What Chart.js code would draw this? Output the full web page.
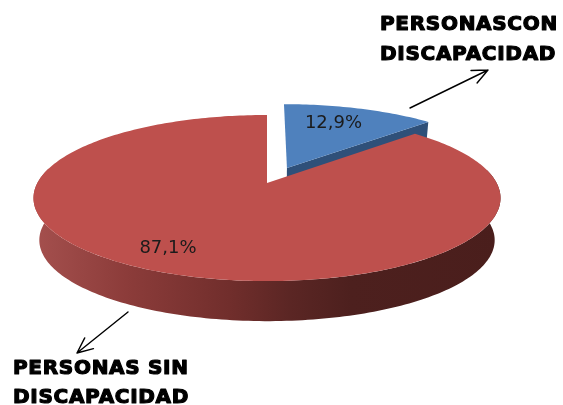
<!DOCTYPE html>
<html><head><meta charset="utf-8">
<style>html,body{margin:0;padding:0;background:#fff}canvas{display:block}</style>
<script src="https://cdn.jsdelivr.net/npm/chart.js@4"></script>
</head><body><canvas id="c" width="563" height="405"></canvas>
<script>
const categories = ["PERSONAS CON DISCAPACIDAD", "PERSONAS SIN DISCAPACIDAD"];
const values = [12.9, 87.1];
const topColors = ["#4F81BD", "#BE504D"];
const sideColors = ["#2F5079", "#7A2F2D"];
const slicePull = [39, 0];
const pullTurn = [0.03, 0];
const labelRadius = [0.716, 0.8];
const labelTurn = [-0.056, 0.084];
const calloutLines = [
  {text:"PERSONASCON", x:380, y:30},
  {text:"DISCAPACIDAD", x:380, y:60},
  {text:"PERSONAS SIN", x:13, y:374},
  {text:"DISCAPACIDAD", x:13, y:403}
];
const arrows = [
  {from:[410,108], to:[488,70]},
  {from:[128,312], to:[77,353]}
];

// Perspective view of a tilted disc
const VIEW = {a:1.255, b:0.439, k:0.181, depthDrop:42.5, depthScale:0.975};
function project(cx, cy, base, u, v, low){
  const w = 1 - VIEW.k*v, s = low ? VIEW.depthScale : 1;
  return [cx + s*VIEW.a*base*u/w, cy + (low?VIEW.depthDrop:0) + s*VIEW.b*base*v/w];
}
function rimPoints(cx, cy, base, o, a0, a1, low){
  const pts = [], n = Math.max(2, Math.ceil((a1-a0)/0.02));
  for(let i=0;i<=n;i++){
    const t = a0+(a1-a0)*i/n;
    pts.push(project(cx,cy,base,o[0]+Math.sin(t),o[1]-Math.cos(t),low));
  }
  return pts;
}
function fillPoly(ctx, pts, fill){
  ctx.beginPath();
  pts.forEach((p,i)=> i?ctx.lineTo(p[0],p[1]):ctx.moveTo(p[0],p[1]));
  ctx.closePath();
  ctx.fillStyle = fill; ctx.fill();
}
const pie3d = {
  id:'pie3d',
  beforeDatasetDraw(){ return false; },
  afterDatasetsDraw(chart){
    const ctx = chart.ctx, base = chart.chartArea.height/2;
    const arcs = chart.getDatasetMeta(0).data;
    const geo = arcs.map((el,i)=>{
      const a0 = el.startAngle+Math.PI/2, a1 = el.endAngle+Math.PI/2, m=(a0+a1)/2;
      const d = el.options.offset/base, pm = m+pullTurn[i];
      return {el,a0,a1,m,o:[d*Math.sin(pm),-d*Math.cos(pm)]};
    });
    ctx.save();
    // blue slice: cut face, then top
    const g0 = geo[0], x0=g0.el.x, y0=g0.el.y;
    const t0 = project(x0,y0,base,g0.o[0],g0.o[1],false), l0 = project(x0,y0,base,g0.o[0],g0.o[1],true);
    const rT = rimPoints(x0,y0,base,g0.o,g0.a1,g0.a1,false)[0], rL = rimPoints(x0,y0,base,g0.o,g0.a1,g0.a1,true)[0];
    fillPoly(ctx,[t0,rT,rL,l0],sideColors[0]);
    fillPoly(ctx,[t0,...rimPoints(x0,y0,base,g0.o,g0.a0,g0.a1,false)],topColors[0]);
    // red slice: curved wall, then top
    const g1 = geo[1], x1=g1.el.x, y1=g1.el.y;
    const w0 = Math.max(g1.a0,1.4), w1 = Math.min(g1.a1,4.9);
    const wallT = rimPoints(x1,y1,base,g1.o,w0,w1,false), wallL = rimPoints(x1,y1,base,g1.o,w0,w1,true).reverse();
    const grad = ctx.createLinearGradient(33,0,500,0);
    [[0,'#A5504E'],[0.2,'#8C3C3A'],[0.42,'#712E2C'],[0.55,'#5B2624'],[0.68,'#4D201E'],[1,'#4A1E1C']]
      .forEach(s=>grad.addColorStop(s[0],s[1]));
    fillPoly(ctx,[...wallT,...wallL],grad);
    fillPoly(ctx,[project(x1,y1,base,0,0,false),...rimPoints(x1,y1,base,g1.o,g1.a0,g1.a1,false)],topColors[1]);
    // percentage labels
    ctx.fillStyle='#1B1B1B'; ctx.textAlign='center'; ctx.textBaseline='middle';
    ctx.font='18px "DejaVu Sans"';
    geo.forEach((g,i)=>{
      const r=labelRadius[i], la=g.m+labelTurn[i];
      const p=project(g.el.x,g.el.y,base,g.o[0]+r*Math.sin(la),g.o[1]-r*Math.cos(la),false);
      ctx.fillText(values[i].toFixed(1).replace('.',',')+'%',p[0],p[1]);
    });
    // callouts
    ctx.textAlign='left'; ctx.textBaseline='alphabetic';
    ctx.font='bold 20px "DejaVu Sans"'; ctx.fillStyle='#000'; ctx.strokeStyle='#000'; ctx.lineWidth=1.2; ctx.lineJoin='round';
    ctx.letterSpacing='0.7px';
    calloutLines.forEach(l=>{ctx.fillText(l.text,l.x,l.y);ctx.strokeText(l.text,l.x,l.y);});
    ctx.letterSpacing='0px';
    ctx.lineWidth=1.4; ctx.lineCap='round';
    arrows.forEach(a=>{
      const ang=Math.atan2(a.to[1]-a.from[1],a.to[0]-a.from[0]), h=17;
      ctx.beginPath();
      ctx.moveTo(a.from[0],a.from[1]); ctx.lineTo(a.to[0],a.to[1]);
      [-0.42,0.42].forEach(da=>{
        ctx.moveTo(a.to[0],a.to[1]);
        ctx.lineTo(a.to[0]-h*Math.cos(ang+da),a.to[1]-h*Math.sin(ang+da));
      });
      ctx.stroke();
    });
    ctx.restore();
  }
};
new Chart(document.getElementById('c'),{
  type:'pie',
  data:{labels:categories,datasets:[{data:values,backgroundColor:topColors,offset:slicePull,borderWidth:0}]},
  options:{
    responsive:false,animation:false,
    layout:{padding:{left:0,top:0,right:29,bottom:39}},
    plugins:{legend:{display:false},tooltip:{enabled:false}}
  },
  plugins:[pie3d]
});
</script></body></html>
